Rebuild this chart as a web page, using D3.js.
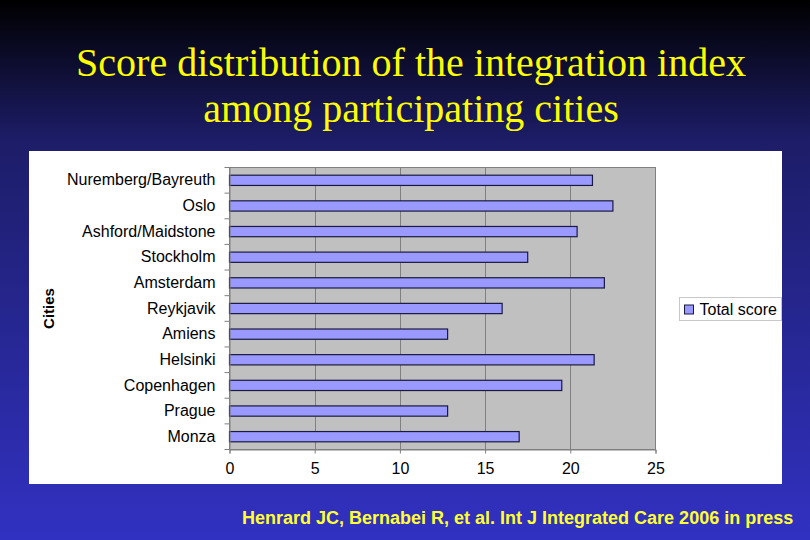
<!DOCTYPE html>
<html>
<head>
<meta charset="utf-8">
<script src="https://cdn.jsdelivr.net/npm/d3@7"></script>
<style>
  html, body { margin: 0; padding: 0; }
  body { width: 810px; height: 540px; overflow: hidden; }
</style>
</head>
<body>
<svg id="chart" width="810" height="540"></svg>
<script>
// data
let cities = ['Nuremberg/Bayreuth', 'Oslo', 'Ashford/Maidstone', 'Stockholm', 'Amsterdam',
    'Reykjavik', 'Amiens', 'Helsinki', 'Copenhagen', 'Prague', 'Monza'];
let scores = [21.3, 22.5, 20.4, 17.5, 22.0, 16.0, 12.8, 21.4, 19.5, 12.8, 17.0];
let xTicks = [0, 5, 10, 15, 20, 25];
let seriesName = 'Total score';

let svg = d3.select('#chart');
let sans = 'Arial, "Liberation Sans", sans-serif';

// slide background
let defs = svg.append('defs');
let grad = defs.append('linearGradient')
    .attr('id', 'bg')
    .attr('x1', 0).attr('y1', 0).attr('x2', 0).attr('y2', 1);
grad.append('stop').attr('offset', '0%').attr('stop-color', '#000000');
grad.append('stop').attr('offset', '26%').attr('stop-color', '#1d1d68');
grad.append('stop').attr('offset', '100%').attr('stop-color', '#3131c2');

svg.append('rect')
    .attr('width', 810).attr('height', 540)
    .attr('fill', 'url(#bg)');

// title
let title = svg.append('text')
    .attr('text-anchor', 'middle')
    .attr('font-family', '"Liberation Serif", "Times New Roman", serif')
    .attr('font-size', 40)
    .attr('fill', '#ffff00');
title.append('tspan').attr('x', 411).attr('y', 76).text('Score distribution of the integration index');
title.append('tspan').attr('x', 411).attr('y', 122).text('among participating cities');

// white chart panel
svg.append('rect')
    .attr('x', 29).attr('y', 151)
    .attr('width', 753).attr('height', 333)
    .attr('fill', '#ffffff');

let plot = {left: 229.5, right: 655.5, top: 167.5, bottom: 449.5};

let x = d3.scaleLinear()
    .domain([0, 25])
    .range([plot.left, plot.right]);

let y = d3.scaleBand()
    .domain(cities)
    .range([plot.top, plot.bottom])
    .paddingInner(0.6)
    .paddingOuter(0.3);

let g = svg.append('g').attr('font-family', sans);

// plot area
g.append('rect')
    .attr('x', plot.left).attr('y', plot.top)
    .attr('width', plot.right - plot.left).attr('height', plot.bottom - plot.top)
    .attr('fill', '#c0c0c0')
    .attr('stroke', '#808080')
    .attr('stroke-width', 1);

// vertical gridlines
g.selectAll('.grid')
    .data(xTicks.slice(1, -1))
    .enter()
    .append('line')
    .attr('class', 'grid')
    .attr('x1', d => Math.round(x(d)) + 0.5)
    .attr('x2', d => Math.round(x(d)) + 0.5)
    .attr('y1', plot.top)
    .attr('y2', plot.bottom)
    .attr('stroke', '#808080');

// bars
g.selectAll('.bar')
    .data(cities)
    .enter()
    .append('rect')
    .attr('class', 'bar')
    .attr('x', x(0))
    .attr('y', d => y(d))
    .attr('width', (d, i) => x(scores[i]) - x(0))
    .attr('height', y.bandwidth())
    .attr('fill', '#9999ff')
    .attr('stroke', '#1a1a40')
    .attr('stroke-width', 1.2);

// x axis
let xAxis = d3.axisBottom(x)
    .tickValues(xTicks)
    .tickSize(4)
    .tickPadding(9);

let xg = g.append('g')
    .attr('transform', `translate(0,${plot.bottom})`)
    .call(xAxis);
xg.select('.domain').attr('stroke', '#808080');
xg.selectAll('.tick line').attr('stroke', '#808080');
xg.selectAll('.tick text')
    .attr('font-size', 16)
    .attr('font-family', sans)
    .attr('fill', '#000');

// y axis: labels centered on bars, ticks on band boundaries
let yg = g.append('g')
    .attr('transform', `translate(${plot.left},0)`)
    .call(d3.axisLeft(y).tickSize(0).tickPadding(14));
yg.select('.domain').attr('stroke', '#808080');
yg.selectAll('.tick text')
    .attr('font-size', 16)
    .attr('font-family', sans)
    .attr('fill', '#000');

let bounds = d3.range(cities.length + 1).map(i => plot.top + i * (plot.bottom - plot.top) / cities.length);
g.selectAll('.ytick')
    .data(bounds)
    .enter()
    .append('line')
    .attr('class', 'ytick')
    .attr('x1', plot.left - 5)
    .attr('x2', plot.left)
    .attr('y1', d => d)
    .attr('y2', d => d)
    .attr('stroke', '#808080');

// y axis title
g.append('text')
    .attr('transform', `translate(54,${(plot.top + plot.bottom) / 2}) rotate(-90)`)
    .attr('text-anchor', 'middle')
    .attr('font-size', 15)
    .attr('font-weight', 'bold')
    .attr('fill', '#000')
    .text('Cities');

// legend
let legend = g.append('g').attr('transform', 'translate(679.5,297.5)');
legend.append('rect')
    .attr('width', 102).attr('height', 23)
    .attr('fill', '#ffffff')
    .attr('stroke', '#c8c8c8');
legend.append('rect')
    .attr('x', 5).attr('y', 7.5)
    .attr('width', 9).attr('height', 9)
    .attr('fill', '#9999ff')
    .attr('stroke', '#1a1a40');
legend.append('text')
    .attr('x', 20).attr('y', 17.5)
    .attr('font-size', 16)
    .attr('fill', '#000')
    .text(seriesName);

// reference footer
svg.append('text')
    .attr('x', 242).attr('y', 524)
    .attr('font-family', sans)
    .attr('font-size', 18)
    .attr('font-weight', 'bold')
    .attr('fill', '#ffff33')
    .text('Henrard JC, Bernabei R, et al. Int J Integrated Care 2006 in press');
</script>
</body>
</html>
